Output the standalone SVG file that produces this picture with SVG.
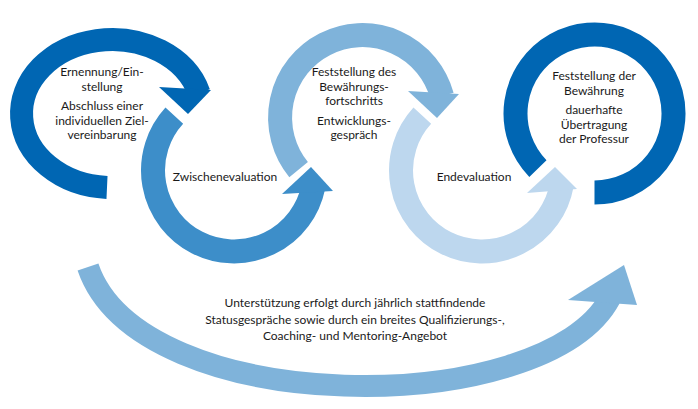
<svg xmlns="http://www.w3.org/2000/svg" width="698" height="409" viewBox="0 0 698 409">
<style>
.ring{fill:none;stroke-width:24;stroke-linecap:butt}
.t{font-family:Lato,"Noto Sans",sans-serif;font-size:12px;fill:#1a1a1a;text-anchor:middle}
.s1{stroke:#0066B3}.f1{fill:#0066B3}
.s2{stroke:#3D8EC9}.f2{fill:#3D8EC9}
.s3{stroke:#7FB3DA}.f3{fill:#7FB3DA}
.s4{stroke:#BDD7EE}.f4{fill:#BDD7EE}
</style>
<rect width="698" height="409" fill="#ffffff"/>
<g id="connectors">
  <path class="ring s3" style="stroke-width:22" d="M88,267 C140,420 545,420 610,298"/>
  <polygon class="f3" points="568,300 637,305 624,265"/>
</g>
<g id="ring1">
  <path class="ring s1" style="stroke-width:23" d="M107,187.4 A90.5,74 0 1 1 199,93"/>
  <polygon class="f1" points="159,87 211,90 188,114"/>
  <text class="t" x="102" y="76">Ernennung/Ein-</text>
  <text class="t" x="102" y="90.5">stellung</text>
  <text class="t" x="102" y="110">Abschluss einer</text>
  <text class="t" x="102" y="124.5">individuellen Ziel-</text>
  <text class="t" x="102" y="139">vereinbarung</text>
</g>
<g id="ring2">
  <path class="ring s2" d="M174.3,115.7 A81,81 0 1 0 313.3,187"/>
  <polygon class="f2" points="282,194 333,191 311,167"/>
  <text class="t" x="225" y="181">Zwischenevaluation</text>
</g>
<g id="ring3">
  <path class="ring s3" d="M298.6,169.6 A82.4,82.4 0 1 1 442,96"/>
  <polygon class="f3" points="408,91 459,94 437,118"/>
  <text class="t" x="354" y="76">Feststellung des</text>
  <text class="t" x="354" y="90.5">Bewährungs-</text>
  <text class="t" x="354" y="105">fortschritts</text>
  <text class="t" x="354" y="124.5">Entwicklungs-</text>
  <text class="t" x="354" y="139">gespräch</text>
</g>
<g id="ring4">
  <path class="ring s4" d="M422.3,115.7 A81,81 0 1 0 561.7,185"/>
  <polygon class="f4" points="527,193 577,189 555,167"/>
  <text class="t" x="474" y="181">Endevaluation</text>
</g>
<g id="ring5">
  <path class="ring s1" d="M594.5,192.5 A79,79 0 1 0 537.9,168.6"/>
  <text class="t" x="594" y="80">Feststellung der</text>
  <text class="t" x="594" y="94.5">Bewährung</text>
  <text class="t" x="594" y="114">dauerhafte</text>
  <text class="t" x="594" y="128.5">Übertragung</text>
  <text class="t" x="594" y="143">der Professur</text>
</g>
<g id="support">
  <text class="t" x="355" y="307">Unterstützung erfolgt durch jährlich stattfindende</text>
  <text class="t" x="355" y="323.5">Statusgespräche sowie durch ein breites Qualifizierungs-,</text>
  <text class="t" x="355" y="340">Coaching- und Mentoring-Angebot</text>
</g>
</svg>
